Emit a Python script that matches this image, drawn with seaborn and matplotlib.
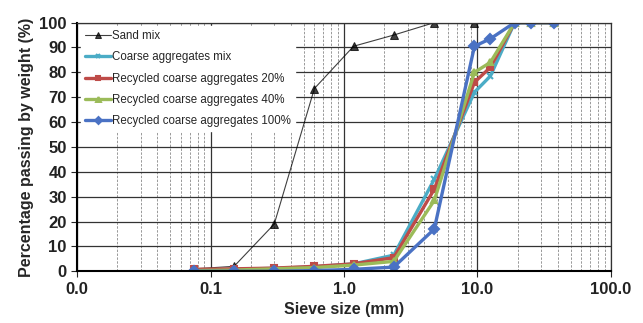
import numpy as np
import pandas as pd
import matplotlib
matplotlib.use("Agg")
import matplotlib.pyplot as plt
import seaborn as sns
from matplotlib.ticker import FixedLocator, FixedFormatter, LogLocator, NullFormatter

sieve = [0.075, 0.15, 0.3, 0.6, 1.18, 2.36, 4.75, 9.5, 12.5, 19, 25, 37.5]

sand_sieve = [0.075, 0.15, 0.3, 0.6, 1.18, 2.36, 4.75, 9.5]
sand_mix = [1, 2, 19, 73.5, 90.5, 95, 100, 100]

coarse_mix = [0.5, 0.8, 1.2, 1.8, 3, 6.5, 37, 72, 78.5, 100, 100, 100]
rca_20 = [0.8, 1, 1.3, 2, 3, 5.5, 33, 76, 82, 100, 100, 100]
rca_40 = [0.3, 0.5, 1, 1.5, 2.5, 4, 28.5, 80, 84, 100, 100, 100]
rca_100 = [0, 0, 0, 0.3, 0.8, 1.7, 17, 90.5, 93.5, 100, 100, 100]

labels = ["Sand mix", "Coarse aggregates mix", "Recycled coarse aggregates 20%",
          "Recycled coarse aggregates 40%", "Recycled coarse aggregates 100%"]
x_ticks = [0.01, 0.1, 1, 10, 100]
x_ticklabels = ["0.0", "0.1", "1.0", "10.0", "100.0"]

sns.set_style("white")
plt.rcParams['font.family'] = ['Liberation Sans', 'DejaVu Sans']

fig, ax = plt.subplots(figsize=(6.43, 3.23), dpi=100)
fig.subplots_adjust(left=0.12, right=0.95, top=0.93, bottom=0.16)

sns.lineplot(x=sand_sieve, y=sand_mix, ax=ax, color="black", lw=0.8, alpha=0.75,
             marker="^", markersize=5.5, markeredgecolor="black", markerfacecolor="black",
             label=labels[0])

series = [
    (coarse_mix, "#4BACC6", "x", labels[1]),
    (rca_20, "#BE4B48", "s", labels[2]),
    (rca_40, "#9BBB59", "^", labels[3]),
    (rca_100, "#4A72C4", "D", labels[4]),
]
for vals, col, mk, lab in series:
    sns.lineplot(x=sieve, y=vals, ax=ax, color=col, lw=2.4, marker=mk,
                 markersize=5, markeredgecolor=col, markerfacecolor=col,
                 markeredgewidth=1.5, label=lab)

ax.set_xscale("log")
ax.set_xlim(0.01, 100)
ax.set_ylim(0, 100)
ax.xaxis.set_major_locator(FixedLocator(x_ticks))
ax.xaxis.set_major_formatter(FixedFormatter(x_ticklabels))
ax.xaxis.set_minor_locator(LogLocator(base=10, subs=np.arange(2, 10)))
ax.xaxis.set_minor_formatter(NullFormatter())
ax.set_yticks(range(0, 101, 10))

ax.grid(which="major", axis="both", color="#333333", lw=0.9, ls="-")
ax.grid(which="minor", axis="x", color="#999999", lw=0.7, ls=(0, (2.5, 1.5)))
ax.set_axisbelow(True)
for s in ax.spines.values():
    s.set_color("#333333")
    s.set_linewidth(0.9)
ax.spines["left"].set_color("black")
ax.spines["bottom"].set_color("black")
ax.spines["left"].set_linewidth(1.5)
ax.spines["bottom"].set_linewidth(1.5)

ax.tick_params(axis="both", which="major", labelsize=12, length=4, direction="out",
               left=True, bottom=True)
for t in ax.get_xticklabels() + ax.get_yticklabels():
    t.set_fontweight("bold")
    t.set_color("#222222")

ax.set_xlabel("Sieve size (mm)", fontsize=11.5, fontweight="bold", labelpad=4)
ax.set_ylabel("Percentage passing by weight (%)", fontsize=11.5, fontweight="bold",
              labelpad=4)

leg = ax.legend(loc="upper left", frameon=True, fancybox=False, framealpha=1,
                edgecolor="white", fontsize=8.3, handlelength=2.3, handletextpad=0.1,
                labelspacing=0.8, borderaxespad=0.3, borderpad=0.35, markerscale=0.7)

fig.savefig("out.png", dpi=100)
